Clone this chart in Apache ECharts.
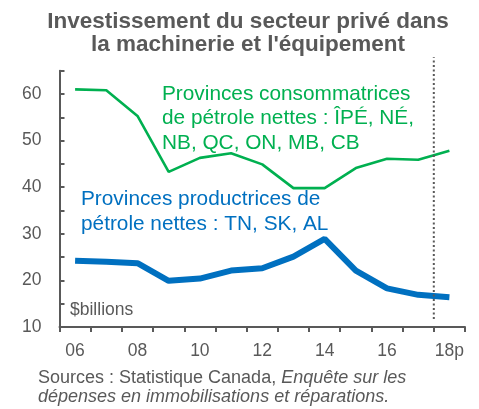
<!DOCTYPE html>
<html>
<head>
<meta charset="utf-8">
<script src="https://cdn.jsdelivr.net/npm/echarts@6/dist/echarts.min.js"></script>
<style>
  html, body { margin: 0; padding: 0; background: #fff; }
  #chart { width: 479px; height: 409px; }
</style>
</head>
<body>
<div id="chart"></div>
<script>
// ---- data ----
const categories = ['06', '07', '08', '09', '10', '11', '12', '13', '14', '15', '16', '17', '18p'];
const consumerProvinces = [61.0, 60.8, 55.3, 43.3, 46.3, 47.3, 44.9, 39.8, 39.8, 44.1, 46.1, 45.9, 47.8];
const producerProvinces = [24.2, 24.0, 23.7, 19.9, 20.4, 22.1, 22.6, 25.1, 28.9, 22.1, 18.3, 16.9, 16.4];
const forecastStartIndex = 12;          // '18p' is the forecast
const dividerSpan = [11.7, 67.9];       // vertical extent of the dotted divider (y values)
const yTicks = [10, 20, 30, 40, 50, 60];

const titleLines = ['Investissement du secteur privé dans', "la machinerie et l'équipement"];
const consumerLabel = ['Provinces consommatrices', 'de pétrole nettes : ÎPÉ, NÉ,', 'NB, QC, ON, MB, CB'];
const producerLabel = ['Provinces productrices de', 'pétrole nettes : TN, SK, AL'];
const unitLabel = '$billions';
const sourceLines = [
  '{n|Sources : Statistique Canada, }{i|Enquête sur les}',
  '{i|dépenses en immobilisations et réparations.}'
];

const GRAY = '#595959';
const GREEN = '#00B050';
const BLUE = '#0070C0';
const FONT = '"Liberation Sans", Arial, sans-serif';

const chart = echarts.init(document.getElementById('chart'), null, { renderer: 'canvas' });

function lineTexts(lines, x, y0, step, style) {
  return lines.map((t, i) => ({
    type: 'text', x: x, y: y0 + i * step, silent: true,
    style: Object.assign({ text: t, verticalAlign: 'middle', fontFamily: FONT }, style)
  }));
}

const richSrc = {
  n: { fontSize: 18, fontFamily: FONT, fill: GRAY },
  i: { fontSize: 18, fontFamily: FONT, fill: GRAY, fontStyle: 'italic' }
};

const graphics = []
  .concat(lineTexts(titleLines, 248, 21.5, 23.5, { fill: GRAY, fontSize: 22.5, fontWeight: 'bold', align: 'center' }))
  .concat(lineTexts(consumerLabel, 162, 94, 24.5, { fill: GREEN, fontSize: 20.8, align: 'left' }))
  .concat(lineTexts(producerLabel, 81, 199.5, 24.5, { fill: BLUE, fontSize: 20.8, align: 'left' }))
  .concat(lineTexts([unitLabel], 70, 310, 0, { fill: GRAY, fontSize: 17.5, align: 'left' }))
  .concat(lineTexts(sourceLines, 38, 378, 18.5, { fill: GRAY, fontSize: 18, align: 'left', rich: richSrc }));

const option = {
  animation: false,
  backgroundColor: '#ffffff',
  grid: { left: 59.5, right: 14, top: 70.7, bottom: 82, containLabel: false },
  xAxis: [{
    type: 'category',
    data: categories,
    boundaryGap: true,
    axisLine: { lineStyle: { color: GRAY, width: 2 } },
    axisTick: { show: true, interval: 0, length: 5, lineStyle: { color: GRAY, width: 2 } },
    axisLabel: { interval: 1, color: GRAY, fontSize: 17.5, fontFamily: FONT, margin: 15 },
    splitLine: { show: false }
  }, {
    type: 'value', min: 0, max: categories.length, show: false
  }],
  yAxis: {
    type: 'value',
    min: 10, max: 65, interval: 5,
    axisLine: { show: true, lineStyle: { color: GRAY, width: 2 } },
    axisTick: { show: true, inside: true, length: 5, lineStyle: { color: GRAY, width: 2 } },
    axisLabel: {
      color: GRAY, fontSize: 17.5, fontFamily: FONT, margin: 18,
      formatter: v => (yTicks.indexOf(v) >= 0 ? String(v) : '')
    },
    splitLine: { show: false }
  },
  series: [{
    name: 'consumers', type: 'line', data: consumerProvinces,
    symbol: 'none', lineStyle: { color: GREEN, width: 2.6 }, itemStyle: { color: GREEN }
  }, {
    name: 'producers', type: 'line', data: producerProvinces,
    symbol: 'none', lineStyle: { color: BLUE, width: 6 }, itemStyle: { color: BLUE }
  }, {
    name: 'divider', type: 'line', xAxisIndex: 1, clip: false,
    data: [[forecastStartIndex, dividerSpan[0]], [forecastStartIndex, dividerSpan[1]]],
    symbol: 'none', lineStyle: { color: GRAY, width: 2, type: [2, 2.5] }
  }],
  graphic: graphics
};
chart.setOption(option);
</script>
</body>
</html>
